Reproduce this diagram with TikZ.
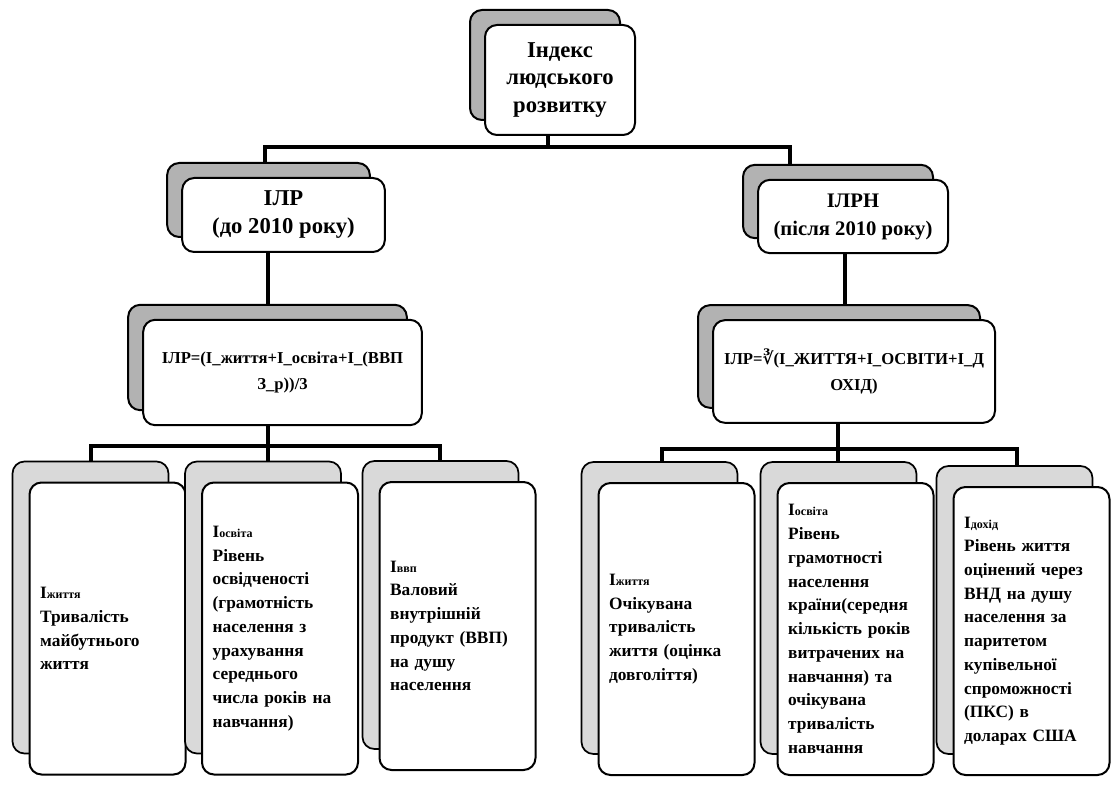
\documentclass[tikz,border=0pt]{standalone}
\usepackage{fontspec}
\setmainfont{Liberation Serif}
\newfontfamily\rootfont{DejaVu Serif}
\usetikzlibrary{backgrounds}

\newcommand{\ilabel}[1]{І{\fontsize{9}{9}\selectfont #1}}

\tikzset{
  box/.style={draw, line width=1.5pt, rounded corners=9pt, fill=white, inner sep=3pt},
  topshade/.style={preaction={draw, line width=1.5pt, fill=gray!60, transform canvas={shift={(-15,15)}}}},
  lowshade/.style={preaction={draw, line width=1.3pt, fill=gray!30, transform canvas={shift={(-17,21)}}}},
  headbox/.style={box, topshade, align=center},
  leafbox/.style={box, lowshade, align=left, text width=101pt, inner xsep=8pt,
    minimum height=219pt, font=\bfseries\fontsize{13}{17.8}\selectfont},
  link/.style={line width=3pt},
}

\begin{document}
\begin{tikzpicture}[x=0.75pt,y=0.75pt,yscale=-1,xscale=1]
\useasboundingbox (0,0) rectangle (1113,787);

% top level
\node[headbox, minimum width=112.5pt, minimum height=82.5pt, font=\bfseries\fontsize{17}{20.5}\selectfont] (top) at (560,80) {Індекс\\людського\\розвитку};

% two indices
\node[headbox, minimum width=152pt, minimum height=55.5pt, font=\bfseries\fontsize{17}{21}\selectfont] (ilr) at (283.5,215) {ІЛР\\(до 2010 року)};
\node[headbox, minimum width=142.5pt, minimum height=55pt, font=\bfseries\fontsize{15.5}{21}\selectfont] (ilrn) at (853,216.5) {ІЛРН\\(після 2010 року)};

% formulas
\node[headbox, minimum width=209pt, minimum height=79pt, font=\bfseries\fontsize{12.5}{20}\selectfont] (fl) at (282.5,372.5) {ІЛР=(І\_життя+І\_освіта+І\_(ВВП\\З\_р))/3};
\node[headbox, minimum width=211.5pt, minimum height=77pt, font=\bfseries\fontsize{12.5}{20}\selectfont] (fr) at (854,371.5) {ІЛР={\rootfont ∛}(І\_ЖИТТЯ+І\_ОСВІТИ+І\_Д\\ОХІД)};

% components, left
\node[leafbox] (b1) at (107.5,628.5) {\ilabel{життя}\\Тривалість\\майбутнього\\життя};
\node[leafbox] (b2) at (280,628.5) {\ilabel{освіта}\\Рівень\\освідченості\\(грамотність\\населення з\\урахування\\середнього\\числа років на\\навчання)};
\node[leafbox, minimum height=216pt] (b3) at (457.5,626) {\ilabel{ввп}\\Валовий\\внутрішній\\продукт (ВВП)\\на душу\\населення};

% components, right
\node[leafbox] (b4) at (676.5,629) {\ilabel{життя}\\Очікувана\\тривалість\\життя (оцінка\\довголіття)};
\node[leafbox] (b5) at (855.5,629) {\ilabel{освіта}\\Рівень\\грамотності\\населення\\країни(середня\\кількість років\\витрачених на\\навчання) та\\очікувана\\тривалість\\навчання};
\node[leafbox, minimum height=216pt] (b6) at (1031.5,631) {\ilabel{дохід}\\Рівень життя\\оцінений через\\ВНД на душу\\населення за\\паритетом\\купівельної\\спроможності\\(ПКС) в\\доларах США};

\begin{scope}[on background layer]
\coordinate (busT) at (548,147);
\coordinate (busTL) at (265,147);
\coordinate (busTR) at (790,147);
\coordinate (stemL) at (268,290);
\coordinate (stemR) at (845,290);
\coordinate (busLL) at (91,446);
\coordinate (busLM) at (268,446);
\coordinate (busLR) at (440,446);
\coordinate (busRL) at (662,449);
\coordinate (busRM) at (838,449);
\coordinate (busRR) at (1017,449);

\draw[link] (top.center -| busT) -- (busT);
\draw[link] (ilr.center -| busTL) -- (busTL) -- (busTR) -- (ilrn.center -| busTR);
\draw[link] (ilr.center -| stemL) -- (fl.center -| stemL);
\draw[link] (ilrn.center -| stemR) -- (fr.center -| stemR);

\draw[link] (fl.center -| busLM) -- (busLM);
\draw[link] (b1.center -| busLL) -- (busLL) -- (busLR) -- (b3.center -| busLR);
\draw[link] (busLM) -- (b2.center -| busLM);

\draw[link] (fr.center -| busRM) -- (busRM);
\draw[link] (b4.center -| busRL) -- (busRL) -- (busRR) -- (b6.center -| busRR);
\draw[link] (busRM) -- (b5.center -| busRM);
\end{scope}

\end{tikzpicture}
\end{document}
